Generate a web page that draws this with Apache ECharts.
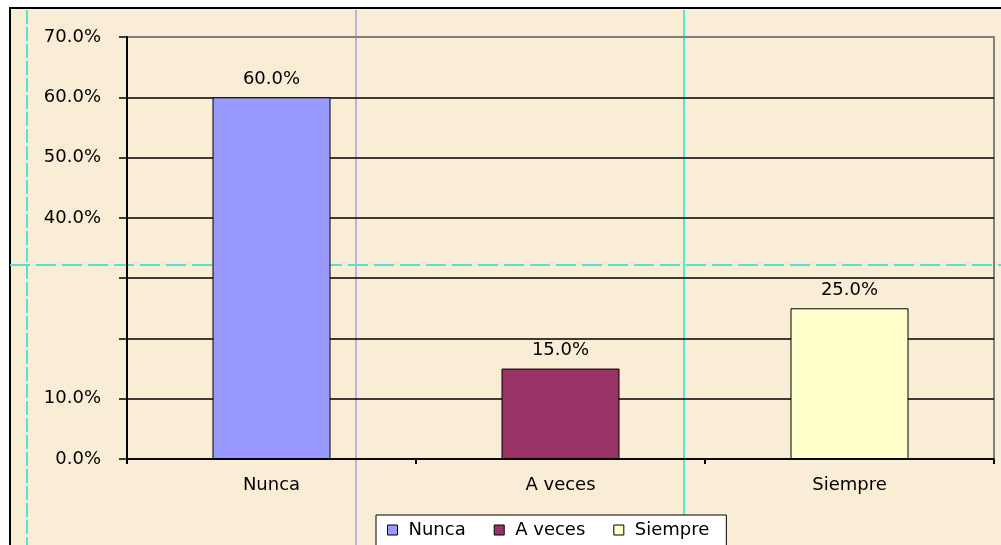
<!DOCTYPE html>
<html>
<head>
<meta charset="utf-8">
<script src="https://cdn.jsdelivr.net/npm/echarts@6/dist/echarts.min.js"></script>
<style>
  html, body { margin: 0; padding: 0; background: #fff; }
  #chart { width: 1001px; height: 545px; }
</style>
</head>
<body>
<div id="chart"></div>
<script>
const categories = ['Nunca', 'A veces', 'Siempre'];
const seriesNames = ['Nunca', 'A veces', 'Siempre'];
const values = [60, 15, 25];
const barColors = ['#9999ff', '#993366', '#ffffcc'];
// 20% y 30% no aparecen en la imagen original
const hiddenTicks = [20, 30];

// la imagen esta estirada a lo ancho, DejaVu Sans se acerca mas que Arial
const FONT = 'DejaVu Sans';
const FONT_SIZE = 18;

const series = seriesNames.map((name, i) => ({
  name,
  type: 'bar',
  stack: 'total',
  barWidth: 118,
  data: categories.map((_, j) => (j === i ? values[i] : '-')),
  itemStyle: { color: barColors[i], borderColor: '#000', borderWidth: 1 },
  label: {
    show: true,
    position: 'top',
    distance: 9,
    color: '#000',
    fontFamily: FONT,
    fontSize: FONT_SIZE,
    formatter: (p) => p.value.toFixed(1) + '%'
  },
  z: 3
}));

const chart = echarts.init(document.getElementById('chart'), null, { renderer: 'canvas' });

chart.setOption({
  animation: false,
  backgroundColor: '#fff',
  grid: {
    left: 127,
    right: 7,
    top: 37,
    bottom: 86,
    show: true,
    backgroundColor: 'transparent',
    borderColor: '#808080',
    borderWidth: 2
  },
  graphic: [
    // fondo beige con borde negro
    {
      type: 'rect', z: -10, silent: true,
      shape: { x: 10, y: 8, width: 1000, height: 545 },
      style: { fill: '#faedd6', stroke: '#000', lineWidth: 2 }
    },
    // guias de color que aparecen en la imagen
    {
      type: 'line', z: -5, silent: true,
      shape: { x1: 27, y1: 10, x2: 27, y2: 545 },
      style: { stroke: '#55e0d0', lineWidth: 2, lineDash: [14, 3] }
    },
    {
      type: 'line', z: -5, silent: true,
      shape: { x1: 356, y1: 10, x2: 356, y2: 545 },
      style: { stroke: '#a8a0e0', lineWidth: 1.5 }
    },
    {
      type: 'line', z: -5, silent: true,
      shape: { x1: 684, y1: 10, x2: 684, y2: 545 },
      style: { stroke: '#55e8d8', lineWidth: 2 }
    },
    {
      type: 'line', z: -5, silent: true,
      shape: { x1: 10, y1: 265, x2: 1001, y2: 265 },
      style: { stroke: '#55e0d0', lineWidth: 2, lineDash: [20, 6] }
    }
  ],
  legend: {
    left: 376,
    top: 515,
    padding: [6, 17, 8, 11],
    backgroundColor: '#fff',
    borderColor: '#000',
    borderWidth: 1,
    borderRadius: 0,
    icon: 'rect',
    itemWidth: 10,
    itemHeight: 10,
    itemGap: 28,
    textStyle: { color: '#000', fontFamily: FONT, fontSize: FONT_SIZE, padding: [0, 0, 0, 6] },
    itemStyle: { borderColor: '#000', borderWidth: 1 },
    data: seriesNames
  },
  xAxis: {
    type: 'category',
    data: categories,
    axisLine: { lineStyle: { color: '#000', width: 1.5 } },
    axisTick: { show: true, length: 5, inside: false, lineStyle: { color: '#000', width: 2 } },
    axisLabel: { color: '#000', fontFamily: FONT, fontSize: FONT_SIZE, margin: 17 },
    splitLine: { show: false }
  },
  yAxis: {
    type: 'value',
    min: 0,
    max: 70,
    interval: 10,
    axisLine: { show: true, lineStyle: { color: '#000', width: 2 } },
    axisTick: { show: true, length: 8, lineStyle: { color: '#000', width: 1.5 } },
    axisLabel: {
      color: '#000',
      fontFamily: FONT,
      fontSize: FONT_SIZE,
      margin: 26,
      formatter: (v) => (hiddenTicks.includes(v) ? '' : v.toFixed(1) + '%')
    },
    splitLine: {
      show: true,
      lineStyle: {
        color: ['#000', '#000', '#000', '#000', '#000', '#000', '#000', '#808080'],
        width: 1.5
      }
    }
  },
  series
});
</script>
</body>
</html>
